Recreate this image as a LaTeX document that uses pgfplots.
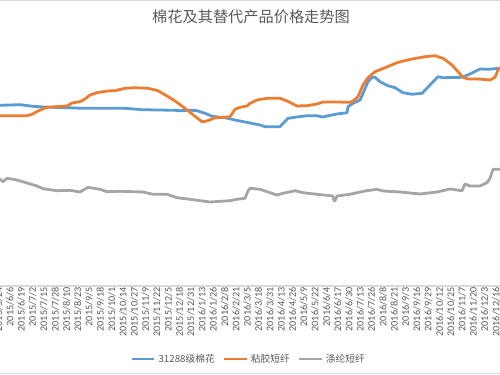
\documentclass[border=0pt]{standalone}
\usepackage{pgfplots}
\pgfplotsset{compat=1.18}
\usepackage{fontspec}
\setmainfont{Carlito}
\newfontfamily\cjk{Noto Sans CJK SC}
\definecolor{cblue}{HTML}{5B9BD5}
\definecolor{corange}{HTML}{ED7D31}
\definecolor{cgray}{HTML}{A5A5A5}
\definecolor{ctext}{HTML}{595959}
\definecolor{cline}{HTML}{D9D9D9}
\begin{document}
\begin{tikzpicture}
\begin{axis}[
 at={(0,0)}, anchor=south west,
 scale only axis, width=376.5pt, height=214.5pt,
 xmin=-2, xmax=500, ymin=0, ymax=286,
 y filter/.expression={286-y},
 axis x line=bottom, axis y line=none,
 x axis line style={-, draw=cline, line width=2pt},
 xtick={-1.302,10,...,500},
 xticklabels={2015/5/24,2015/6/6,2015/6/19,2015/7/2,2015/7/15,2015/7/28,2015/8/10,2015/8/23,2015/9/5,2015/9/18,2015/10/1,2015/10/14,2015/10/27,2015/11/9,2015/11/22,2015/12/5,2015/12/18,2015/12/31,2016/1/13,2016/1/26,2016/2/8,2016/2/21,2016/3/5,2016/3/18,2016/3/31,2016/4/13,2016/4/26,2016/5/9,2016/5/22,2016/6/4,2016/6/17,2016/6/30,2016/7/13,2016/7/26,2016/8/8,2016/8/21,2016/9/3,2016/9/16,2016/9/29,2016/10/12,2016/10/25,2016/11/7,2016/11/20,2016/12/3,2016/12/16},
 major tick length=0pt,
 xticklabel style={rotate=90, anchor=east, font=\fontsize{7.6}{8}\selectfont, text=ctext, inner sep=1pt},
 legend style={at={(0.5,-0.255)}, anchor=center, draw=none, fill=none, legend columns=3,
   font=\cjk\fontsize{7.3}{8}\selectfont, text=ctext, inner sep=0pt,
   /tikz/every even column/.append style={column sep=4pt}},
 legend image code/.code={\draw[#1] (0pt,0pt) -- (17pt,0pt);},
 every axis plot/.append style={line width=2.1pt, line join=round},
]
\addplot[cblue] coordinates {
(0,105.3)(20,104.7)(25,105.3)(33,106.3)(43,107)(67,107.7)(83,108.3)(100,108.3)(125,108.3)(142,109.7)(175,110.3)(180,110.7)(192,110.3)(197,110.7)(205,113.3)(212,116.3)(225,117.7)(235,120)(250,123)(260,125)(265,126.7)(280,126.7)(283,123.3)(288,118.3)(297,117)(307,115.7)(317,115.7)(322,117)(327,116)(337,114)(347,112.7)(348,106.7)(353,103.3)(360,100)(363,93.3)(368,81.7)(372,77.3)(375,77.3)(380,81.7)(388,85.7)(395,87.7)(403,92.7)(412,94.3)(422,93.3)(430,85)(438,76.7)(443,77.7)(462,77.3)(470,74)(480,69)(488,69.3)(500,68.3)};
\addlegendentry{31288级棉花}
\addplot[corange] coordinates {
(0,115.7)(27,115.7)(32,114.3)(38,111)(47,107.3)(67,106)(72,103)(80,101.7)(85,99)(90,95)(97,92.7)(107,91)(115,90.7)(125,88.3)(135,87.7)(148,88.3)(158,90.7)(167,96)(175,101)(185,108.3)(195,116.3)(202,121.7)(207,121)(215,117.7)(225,117.3)(230,116.7)(235,109.3)(240,107.3)(247,106)(250,103.3)(257,100)(267,98.3)(280,98.3)(287,101)(297,106)(307,105.7)(317,104)(323,102)(337,102)(350,102.3)(353,101)(358,96.7)(363,85)(368,77.7)(375,71.7)(385,67.7)(398,62.3)(412,59)(425,56.7)(435,55.7)(443,58.3)(452,65)(458,71.7)(463,77.3)(468,79)(478,79)(490,80)(495,77.3)(498,70)(500,67.7)};
\addlegendentry{粘胶短纤}
\addplot[cgray] coordinates {
(0,179)(3,181.7)(7,178.3)(17,180)(27,183)(37,186)(43,188.7)(57,190.7)(70,190.3)(80,192)(88,187.3)(100,189.3)(107,191.7)(120,191.3)(143,192)(153,194.3)(167,194.3)(177,197.7)(190,199.3)(210,202)(230,200.7)(237,199.3)(245,198.3)(248,191)(250,188.3)(260,189.3)(277,195)(283,193.3)(295,190.7)(303,192.7)(317,194.3)(333,196)(334,200.7)(335,200.7)(337,196)(350,194.3)(365,191)(377,189.3)(383,191)(400,192)(420,194)(437,192)(450,189)(462,190.7)(465,184)(470,186)(480,186)(487,182.7)(490,178.3)(493,169.3)(500,169.3)};
\addlegendentry{涤纶短纤}
\end{axis}
\node[font=\cjk\fontsize{11.4}{13}\selectfont, text=ctext] at (189.75pt,201.75pt) {棉花及其替代产品价格走势图};
\draw[cline, line width=0.75pt] (1.5pt,213.9pt) -- (376.5pt,213.9pt);
\draw[cline, line width=0.75pt] (1.5pt,-65.25pt) -- (376.5pt,-65.25pt);
\pgfresetboundingbox
\useasboundingbox (1.5pt,-66.75pt) rectangle (376.5pt,214.5pt);
\end{tikzpicture}
\end{document}
